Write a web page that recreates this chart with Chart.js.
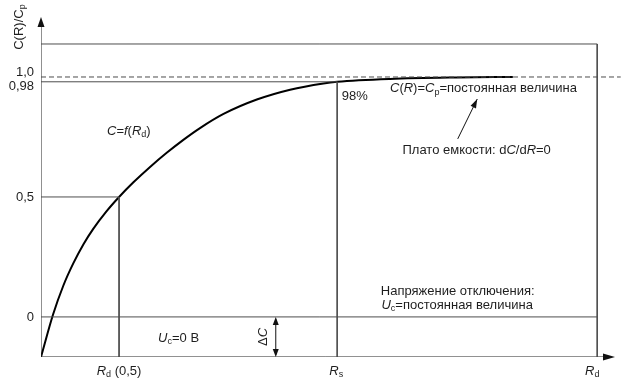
<!DOCTYPE html>
<html lang="ru">
<head>
  <meta charset="UTF-8">
  <title>C(R)/Cp</title>
  <script src="https://cdn.jsdelivr.net/npm/chart.js@4.4.1/dist/chart.umd.min.js"></script>
  <style>
    html, body { margin: 0; padding: 0; background: #fff; }
  </style>
</head>
<body>
  <canvas id="chart" width="621" height="383"></canvas>

  <script>
    // Кривая C = f(Rd), точки
    const curveR = [0, 2.1, 3.9, 5.6, 7.4, 9.1, 11.4, 13.6, 16.1, 19.0, 21.9, 24.8, 27.7, 31.8, 37.6, 43.4, 49.2, 51.6, 60.8, 72.4, 82.2];
    const curveC = [-0.167, 0.01, 0.131, 0.222, 0.303, 0.367, 0.440, 0.5, 0.561, 0.625, 0.684, 0.738, 0.787, 0.846, 0.906, 0.947, 0.973, 0.98, 0.992, 0.998, 1.0];

    // Деления оси C(R)/Cp
    const yTicks = [1.0, 0.98, 0.5, 0];
    const yTickLabels = ['1,0', '0,98', '0,5', '0'];

    // Характерные сопротивления и границы
    const rHalf = 13.6, rS = 51.6, rEnd = 96.9, rDelta = 40.9, rMax = 100;
    const cMin = -0.167, cTop = 1.1375, cMax = 1.25;

    const LINE = '#4d4d4d';
    const TEXT = '#1e1e1e';

    const seg = (pts, extra) => Object.assign({
      data: pts.map(p => ({ x: p[0], y: p[1] })),
      borderColor: LINE, borderWidth: 1, pointRadius: 0, tension: 0, fill: false
    }, extra || {});

    // Вывод текста с курсивом и нижними индексами: [текст, 'i' | 's' | '']
    function rich(ctx, parts, px, py, align) {
      const font = f => (f && f.includes('i') ? 'italic ' : '') + (f && f.includes('s') ? 9 : 13) + 'px "Liberation Sans", Arial, sans-serif';
      let w = 0;
      parts.forEach(p => { ctx.font = font(p[1]); w += ctx.measureText(p[0]).width; });
      let cx = align === 'center' ? px - w / 2 : align === 'right' ? px - w : px;
      ctx.textAlign = 'left';
      ctx.textBaseline = 'middle';
      parts.forEach(p => {
        ctx.font = font(p[1]);
        ctx.fillText(p[0], cx, py + (p[1] && p[1].includes('s') ? 4 : 0));
        cx += ctx.measureText(p[0]).width;
      });
    }

    function head(ctx, x1, y1, x2, y2, len, half) {
      const a = Math.atan2(y2 - y1, x2 - x1);
      ctx.beginPath();
      ctx.moveTo(x2, y2);
      ctx.lineTo(x2 - len * Math.cos(a) + half * Math.sin(a), y2 - len * Math.sin(a) - half * Math.cos(a));
      ctx.lineTo(x2 - len * Math.cos(a) - half * Math.sin(a), y2 - len * Math.sin(a) + half * Math.cos(a));
      ctx.closePath();
      ctx.fill();
    }

    const notes = {
      id: 'notes',
      afterDatasetsDraw(chart) {
        const { ctx, scales: { x, y } } = chart;
        const X = v => x.getPixelForValue(v), Y = v => y.getPixelForValue(v);
        ctx.save();
        ctx.fillStyle = '#111';
        ctx.strokeStyle = '#111';
        ctx.lineWidth = 1;

        // стрелки осей
        head(ctx, X(0), Y(cMin), X(0), Y(cMax), 10, 3.5);
        head(ctx, X(0), Y(cMin), X(rMax), Y(cMin), 12, 3.5);

        // стрелка ΔC
        ctx.beginPath();
        ctx.moveTo(X(rDelta), Y(0) + 2);
        ctx.lineTo(X(rDelta), Y(cMin) - 2);
        ctx.stroke();
        head(ctx, X(rDelta), Y(cMin), X(rDelta), Y(0), 8, 3);
        head(ctx, X(rDelta), Y(0), X(rDelta), Y(cMin), 8, 3);

        // стрелка к плато
        ctx.beginPath();
        ctx.moveTo(X(72.6), Y(0.742));
        ctx.lineTo(X(76), Y(0.908));
        ctx.stroke();
        head(ctx, X(72.6), Y(0.742), X(76), Y(0.908), 9, 3);

        ctx.fillStyle = TEXT;

        // подписи делений
        const shift = [-5, 5, 0, 0];
        yTicks.forEach((v, i) => rich(ctx, [[yTickLabels[i], '']], x.left - 7, Y(v) + shift[i], 'right'));

        // название оси Y (повёрнуто)
        ctx.save();
        ctx.translate(x.left - 22, Y(1.208));
        ctx.rotate(-Math.PI / 2);
        rich(ctx, [['C(R)/C', ''], ['p', 's']], 0, 0, 'center');
        ctx.restore();

        // подписи оси X
        const yb = Y(cMin) + 14;
        rich(ctx, [['R', 'i'], ['d', 's'], [' (0,5)', '']], X(rHalf), yb, 'center');
        rich(ctx, [['R', 'i'], ['s', 's']], X(rS) - 1, yb, 'center');
        rich(ctx, [['R', 'i'], ['d', 's']], X(rEnd) - 5, yb, 'center');

        // надписи в поле графика
        rich(ctx, [['C', 'i'], ['=', ''], ['f', 'i'], ['(', ''], ['R', 'i'], ['d', 's'], [')', '']], X(11.5), Y(0.775), 'left');
        rich(ctx, [['98%', '']], X(52.4), Y(0.917), 'left');
        rich(ctx, [['C', 'i'], ['(', ''], ['R', 'i'], [')=', ''], ['C', 'i'], ['p', 's'], ['=постоянная величина', '']], X(60.8), Y(0.954), 'left');
        rich(ctx, [['Плато емкости: d', ''], ['C', 'i'], ['/d', ''], ['R', 'i'], ['=0', '']], X(75.9), Y(0.696), 'center');
        rich(ctx, [['Напряжение отключения:', '']], X(72.6), Y(0.108), 'center');
        rich(ctx, [['U', 'i'], ['c', 's'], ['=постоянная величина', '']], X(72.5), Y(0.05), 'center');
        rich(ctx, [['U', 'i'], ['c', 's'], ['=0 В', '']], X(20.4), Y(-0.0875), 'left');

        ctx.save();
        ctx.translate(X(38.7), Y(-0.083));
        ctx.rotate(-Math.PI / 2);
        rich(ctx, [['Δ', ''], ['C', 'i']], 0, 0, 'center');
        ctx.restore();

        ctx.restore();
      }
    };

    new Chart(document.getElementById('chart'), {
      type: 'line',
      data: {
        datasets: [
          // рамка и уровни
          seg([[0, cTop], [rEnd, cTop], [rEnd, cMin]]),
          seg([[0, 0], [rEnd, 0]]),
          seg([[0, 0.98], [rS, 0.98], [rS, cMin]]),
          seg([[0, 0.5], [rHalf, 0.5], [rHalf, cMin]]),
          seg([[0, 1.0], [rMax + 1, 1.0]], { borderDash: [5, 3], clip: false }),
          // оси
          seg([[0, cMin], [0, cMax - 0.03]], { borderColor: '#222' }),
          seg([[0, cMin], [rMax - 1, cMin]], { borderColor: '#222' }),
          // кривая
          {
            data: curveR.map((r, i) => ({ x: r, y: curveC[i] })),
            borderColor: '#000', borderWidth: 2, pointRadius: 0,
            cubicInterpolationMode: 'monotone', fill: false
          }
        ]
      },
      options: {
        responsive: false,
        animation: false,
        layout: { padding: { left: 41, right: 6, top: 17, bottom: 26 } },
        scales: {
          x: { type: 'linear', min: 0, max: rMax, display: false },
          y: { type: 'linear', min: cMin, max: cMax, display: false }
        },
        plugins: { legend: { display: false }, tooltip: { enabled: false } }
      },
      plugins: [notes]
    });
  </script>
</body>
</html>
